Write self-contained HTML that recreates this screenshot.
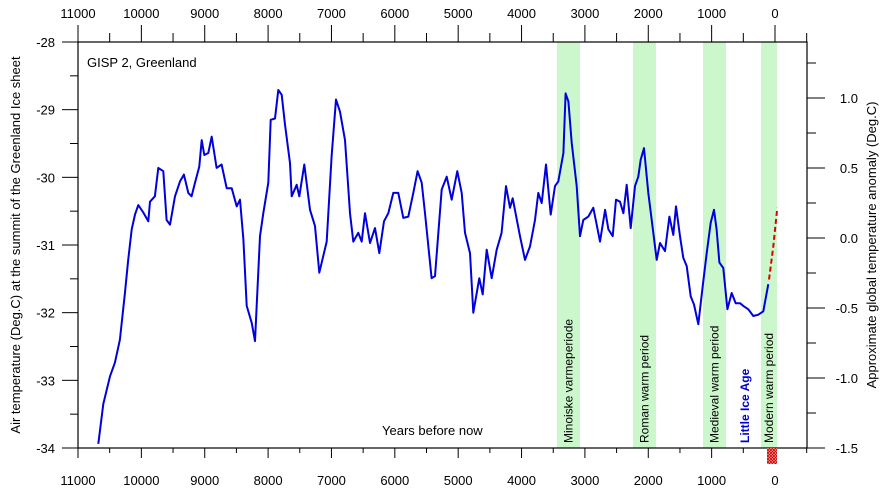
<!DOCTYPE html>
<html><head><meta charset="utf-8">
<style>
html,body{margin:0;padding:0;background:#fff;}
svg{display:block;font-family:"Liberation Sans",Arial,sans-serif;}
</style></head>
<body>
<svg id="chart" width="880" height="494" viewBox="0 0 880 494" xmlns="http://www.w3.org/2000/svg">
<defs>
<pattern id="hatch" width="3" height="3" patternUnits="userSpaceOnUse">
<rect width="3" height="3" fill="#f3b0b0"/>
<path d="M0,0 L3,3 M3,0 L0,3" stroke="#cc0000" stroke-width="0.8"/>
</pattern>
</defs>
<g id="bands"></g>
<g id="axes"></g>
<g id="series"></g>
<g id="labels"></g>
</svg>
<script>
const years = [10680,10600,10495,10417,10338,10258,10207,10153,10101,10048,9969,9891,9864,9786,9733,9654,9601,9548,9469,9390,9328,9259,9207,9154,9086,9048,9007,8943,8890,8812,8733,8654,8575,8496,8444,8390,8338,8259,8206,8128,8075,7996,7959,7891,7839,7785,7733,7654,7628,7549,7508,7428,7339,7260,7192,7075,6997,6929,6865,6787,6708,6655,6576,6523,6470,6392,6313,6245,6171,6103,6024,5945,5866,5788,5709,5640,5576,5524,5419,5366,5260,5181,5103,5014,4945,4893,4814,4761,4666,4613,4550,4471,4392,4314,4245,4182,4140,4025,3945,3866,3787,3735,3682,3614,3540,3472,3420,3340,3304,3261,3209,3130,3077,3025,2946,2867,2814,2762,2682,2630,2561,2510,2446,2393,2340,2277,2210,2157,2120,2067,1999,1920,1867,1815,1736,1667,1605,1562,1500,1447,1393,1331,1278,1210,1141,1078,1015,962,921,878,816,752,683,621,552,500,421,342,263,184,106];
const temps = [-33.94,-33.35,-32.94,-32.74,-32.40,-31.70,-31.22,-30.77,-30.55,-30.41,-30.52,-30.65,-30.36,-30.28,-29.86,-29.91,-30.63,-30.70,-30.28,-30.06,-29.96,-30.23,-30.28,-30.08,-29.84,-29.45,-29.67,-29.64,-29.40,-29.86,-29.81,-30.16,-30.16,-30.43,-30.33,-30.92,-31.90,-32.15,-32.42,-30.87,-30.53,-30.08,-29.15,-29.13,-28.71,-28.78,-29.22,-29.79,-30.28,-30.11,-30.28,-29.81,-30.48,-30.72,-31.41,-30.95,-29.69,-28.85,-29.03,-29.45,-30.53,-30.95,-30.82,-30.95,-30.53,-30.97,-30.75,-31.12,-30.65,-30.53,-30.23,-30.23,-30.60,-30.58,-30.23,-29.91,-30.08,-30.53,-31.49,-31.46,-30.18,-29.99,-30.33,-29.91,-30.23,-30.82,-31.12,-32.00,-31.49,-31.73,-31.07,-31.49,-31.07,-30.82,-30.13,-30.45,-30.31,-30.87,-31.22,-31.02,-30.63,-30.23,-30.38,-29.81,-30.55,-30.13,-30.06,-29.64,-28.76,-28.88,-29.49,-30.13,-30.87,-30.63,-30.58,-30.45,-30.70,-30.95,-30.48,-30.77,-30.87,-30.33,-30.36,-30.53,-30.11,-30.75,-30.13,-29.99,-29.74,-29.57,-30.23,-30.82,-31.22,-30.97,-31.09,-30.58,-30.85,-30.43,-30.87,-31.19,-31.31,-31.76,-31.88,-32.17,-31.61,-31.12,-30.67,-30.48,-30.77,-31.26,-31.34,-31.95,-31.71,-31.86,-31.86,-31.90,-31.95,-32.05,-32.03,-31.98,-31.58];
const recentYears = [95,27,-37];
const recentTemps = [-31.51,-31.02,-30.45];
const bandStarts = [3440,2241,1136,221];
const bandEnds = [3077,1878,773,-32];
const bandLabels = ["Minoiske varmeperiode","Roman warm period","Medieval warm period","Modern warm period"];
const xTicks = [11000,10000,9000,8000,7000,6000,5000,4000,3000,2000,1000,0];
const yTicks = [-28,-29,-30,-31,-32,-33,-34];
const anomalyTicks = [1.0,0.5,0.0,-0.5,-1.0,-1.5];

const NS="http://www.w3.org/2000/svg";
const L=78,R=807,T=42,B=448;
function x(yr){return L+(11000-yr)*(775-L)/11000;}
function y(t){return T+(-28-t)*(B-T)/6;}
function ya(a){return 448-(a+1.5)*140;}
function mk(tag,attrs,parent,text){const e=document.createElementNS(NS,tag);for(const k in attrs)e.setAttribute(k,attrs[k]);if(text!==undefined)e.textContent=text;parent.appendChild(e);return e;}
const gB=document.getElementById('bands'),gA=document.getElementById('axes'),gS=document.getElementById('series'),gL=document.getElementById('labels');

bandStarts.forEach((s,i)=>{
  const r=mk('rect',{x:x(s),y:T,width:x(bandEnds[i])-x(s),height:B-T,fill:'#ccf7cc'},gB);
  
  
  const cx=(x(s)+x(bandEnds[i]))/2+4;
  const t=mk('text',{transform:`translate(${cx},443) rotate(-90)`,'font-size':'12',fill:'#000'},gL,bandLabels[i]);
  
  
});
const lia=mk('text',{transform:`translate(749,443) rotate(-90)`,'font-size':'12','font-weight':'bold',fill:'#0000cc'},gL,'Little Ice Age');



const fr=mk('rect',{x:L,y:T,width:R-L,height:B-T,fill:'none',stroke:'#000','stroke-width':1.2},gA);



for(let yr=11000;yr>=-500;yr-=500){
  const xx=x(yr); if(xx>R)break;
  const major=yr%1000===0;
  mk('line',{x1:xx,x2:xx,y1:T,y2:T-(major?17:9),stroke:'#000'},gA);
  mk('line',{x1:xx,x2:xx,y1:B,y2:B+(major?10:5),stroke:'#000'},gA);
}
xTicks.forEach(v=>{
  const a=mk('text',{x:x(v),y:18,'font-size':'13','text-anchor':'middle'},gA,String(v));
  
  
  const b=mk('text',{x:x(v),y:485,'font-size':'13','text-anchor':'middle'},gA,String(v));
  
  
});
for(let t=-28;t>=-34;t-=0.5){
  const major=Math.abs(t-Math.round(t))<1e-6;
  mk('line',{x1:L,x2:L-(major?16:8),y1:y(t),y2:y(t),stroke:'#000'},gA);
}
yTicks.forEach(v=>{
  const e=mk('text',{x:55,y:y(v)+5,'font-size':'13','text-anchor':'end'},gA,String(v));
  
  
});
for(let a=1.25;a>=-1.5;a-=0.25){
  const major=Math.abs(a*2-Math.round(a*2))<1e-6;
  mk('line',{x1:R,x2:R+(major?18:9),y1:ya(a),y2:ya(a),stroke:'#000'},gA);
}
anomalyTicks.forEach(v=>{
  const e=mk('text',{x:858,y:ya(v)+5,'font-size':'13','text-anchor':'end'},gA,v.toFixed(1));
  
  
});

let d=years.map((yr,i)=>(i?'L':'M')+x(yr).toFixed(1)+','+y(temps[i]).toFixed(1)).join(' ');
const p=mk('path',{d:d,fill:'none',stroke:'#0000dd','stroke-width':2,'stroke-linejoin':'round'},gS);


let d2=recentYears.map((yr,i)=>(i?'L':'M')+x(yr).toFixed(1)+','+y(recentTemps[i]).toFixed(1)).join(' ');
const p2=mk('path',{d:d2,fill:'none',stroke:'#dd0000','stroke-width':2,'stroke-dasharray':'5,3'},gS);


const hz=mk('rect',{x:767,y:B,width:10,height:16,fill:'url(#hatch)'},gS);



const t1=mk('text',{x:87,y:67,'font-size':'13'},gL,'GISP 2, Greenland');


const t2=mk('text',{x:382,y:435,'font-size':'13'},gL,'Years before now');


const t3=mk('text',{transform:'translate(20,245) rotate(-90)','font-size':'13','text-anchor':'middle'},gL,'Air temperature (Deg.C) at the summit of the Greenland Ice sheet');


const t4=mk('text',{transform:'translate(876,245) rotate(-90)','font-size':'13','text-anchor':'middle'},gL,'Approximate global temperature anomaly (Deg.C)');


</script>
</body></html>
